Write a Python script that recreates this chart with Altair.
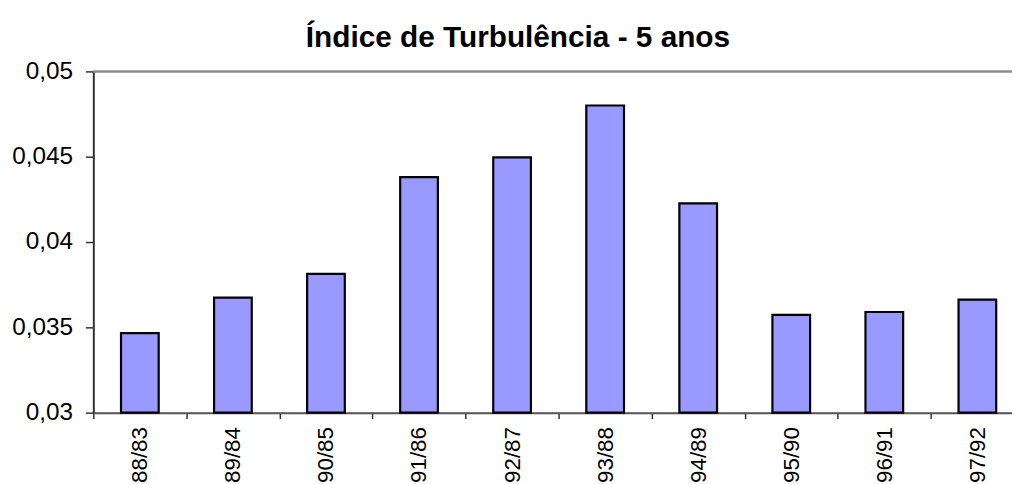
import altair as alt
import pandas as pd

periods = ["88/83", "89/84", "90/85", "91/86", "92/87", "93/88", "94/89", "95/90", "96/91", "97/92"]
values = [0.03466, 0.03674, 0.03813, 0.0438, 0.04496, 0.0480, 0.04227, 0.03573, 0.0359, 0.03662]
y_ticks = [0.03, 0.035, 0.04, 0.045, 0.05]
title_text = ["Índice de Turbulência - 5 anos"]

df = pd.DataFrame({"periodo": periods, "indice": values})

FONT = "Liberation Sans"

x_enc = alt.X(
    "periodo:N",
    sort=periods,
    scale=alt.Scale(range=[0, 938], paddingInner=0, paddingOuter=0),
    axis=alt.Axis(
        title=None,
        labelAngle=270,
        labelAlign="right",
        labelBaseline="middle",
        labelFontSize=22.5,
        labelFont=FONT,
        labelColor="black",
        labelPadding=8,
        tickBand="extent",
        tickSize=6,
        tickColor="#333333",
        tickWidth=1.5,
        domainColor="#555555",
        domainWidth=2,
        grid=False,
    ),
)

y_scale = alt.Scale(domain=[0.03, 0.05], zero=False, nice=False)

bars = alt.Chart(df).mark_bar(
    width={"band": 0.405},
    fill="#9999FF",
    stroke="black",
    strokeWidth=2.2,
).encode(
    x=x_enc,
    y=alt.Y(
        "indice:Q",
        scale=y_scale,
        axis=alt.Axis(
            title=None,
            values=y_ticks,
            labelExpr="replace(format(datum.value, '~g'), '.', ',')",
            labelFontSize=24.5,
            labelFont=FONT,
            labelColor="black",
            labelPadding=13,
            tickSize=8,
            tickColor="#333333",
            tickWidth=1.5,
            domainColor="#333333",
            domainWidth=2,
            grid=False,
        ),
    ),
    y2=alt.datum(0.03),
)

top_line = alt.Chart(pd.DataFrame({"topo": [0.05]})).mark_rule(
    color="#8c8c8c", strokeWidth=2.5
).encode(
    y=alt.Y("topo:Q", scale=y_scale),
    x=alt.value(0),
    x2=alt.value(938),
)

title_mark = alt.Chart(pd.DataFrame({"t": title_text})).mark_text(
    font=FONT,
    fontSize=30,
    fontWeight="bold",
    color="black",
    align="center",
    baseline="alphabetic",
).encode(
    text="t:N",
    x=alt.value(428),
    y=alt.value(-25),
)

chart = alt.layer(bars, top_line, title_mark).properties(
    width=926,
    height=344,
    autosize=alt.AutoSizeParams(type="none"),
    padding={"left": 86, "top": 62, "right": 0, "bottom": 70},
).configure_view(stroke=None).configure(background="white")

chart.save("out.html", embed_options={"renderer": "svg", "actions": False})
